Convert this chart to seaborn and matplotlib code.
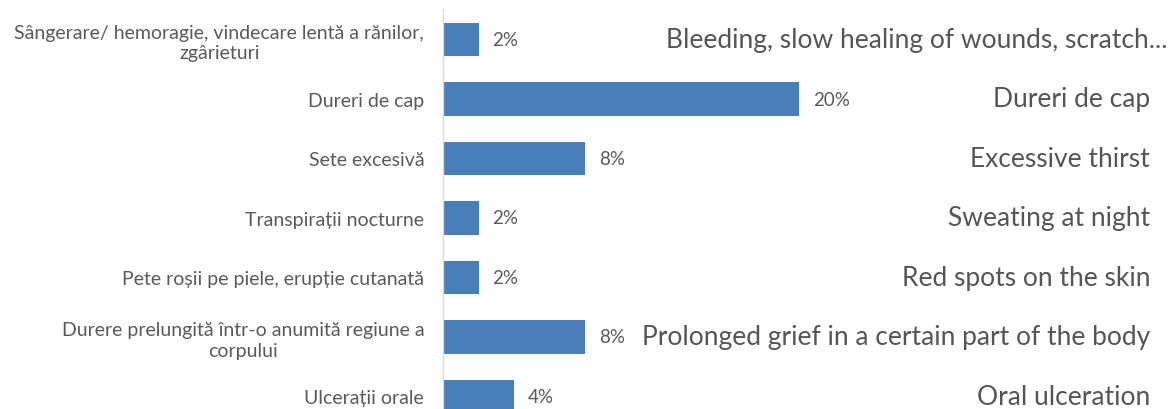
import matplotlib
matplotlib.use("Agg")
import matplotlib.pyplot as plt
import matplotlib.transforms as mtransforms
import pandas as pd
import seaborn as sns

# Symptoms (Romanian axis labels), share of respondents (%), English captions
symptoms_ro = [
    "Sângerare/ hemoragie, vindecare lentă a rănilor,\nzgârieturi",
    "Dureri de cap",
    "Sete excesivă",
    "Transpirații nocturne",
    "Pete roșii pe piele, erupție cutanată",
    "Durere prelungită într-o anumită regiune a\ncorpului",
    "Ulcerații orale",
]
shares = [2, 20, 8, 2, 2, 8, 4]
captions_en = [
    "Bleeding, slow healing of wounds, scratch...",
    "Dureri de cap",
    "Excessive thirst",
    "Sweating at night",
    "Red spots on the skin",
    "Prolonged grief in a certain part of the body",
    "Oral ulceration",
]

df = pd.DataFrame({"symptom": symptoms_ro, "share": shares})

sns.set_theme(style="white")
plt.rcParams["font.family"] = ["Lato", "DejaVu Sans"]

W, H = 1171, 410
fig = plt.figure(figsize=(W / 100, H / 100), dpi=100)
fig.patch.set_facecolor("white")

left_px, top_px = 443, 10
ax = fig.add_axes([left_px / W, 0.0, (W - left_px) / W, (H - top_px) / H])

bar_color = "#4A7EBB"
text_gray = "#5a5a5a"

sns.barplot(data=df, x="share", y="symptom", orient="h", color=bar_color,
            width=0.56, saturation=1, ax=ax, linewidth=0)

px_per_unit = 17.8
ax.set_xlim(0, (W - left_px) / px_per_unit)
row_px = 59.5
first_center = 40.5
ax.set_ylim(-(first_center - top_px) / row_px + (H - top_px) / row_px,
            -(first_center - top_px) / row_px)

ax.set_xlabel("")
ax.set_ylabel("")
ax.set_xticks([])
for side in ["top", "right", "bottom"]:
    ax.spines[side].set_visible(False)
ax.spines["left"].set_color("#d9d9d9")
ax.spines["left"].set_linewidth(1.0)

ax.tick_params(axis="y", length=0, pad=13.5)
for lbl in ax.get_yticklabels():
    lbl.set_fontsize(14)
    lbl.set_color(text_gray)
    lbl.set_multialignment("center")
    lbl.set_linespacing(1.25)

# Value labels next to each bar
ax.bar_label(ax.containers[0], labels=[f"{v}%" for v in shares],
             padding=10, fontsize=13.5, color=text_gray)

# English captions, right-aligned in the right part of the figure
trans = mtransforms.blended_transform_factory(fig.transFigure, ax.transData)
for i, cap in enumerate(captions_en):
    x_right = 1168 if i == 0 else 1150
    ax.text(x_right / W, i, cap, transform=trans, ha="right", va="center",
            fontsize=19, color="#555555")

fig.savefig("out.png", dpi=100, facecolor="white")
